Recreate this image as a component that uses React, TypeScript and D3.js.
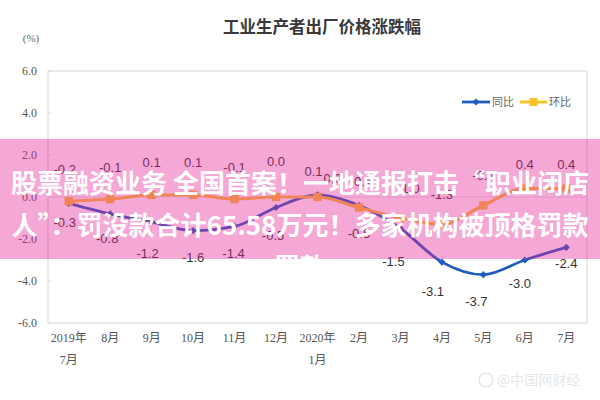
import React from "react";
import * as d3 from "d3";

// ---- data ----
const categories = ["2019-07", "2019-08", "2019-09", "2019-10", "2019-11", "2019-12", "2020-01", "2020-02", "2020-03", "2020-04", "2020-05", "2020-06", "2020-07"];
const xTickLabels = [["2019年", "7月"], ["8月"], ["9月"], ["10月"], ["11月"], ["12月"], ["2020年", "1月"], ["2月"], ["3月"], ["4月"], ["5月"], ["6月"], ["7月"]];
const yoyValues = [-0.3, -0.8, -1.2, -1.6, -1.4, -0.5, 0.1, -0.4, -1.5, -3.1, -3.7, -3.0, -2.4];
const momValues = [-0.2, -0.1, 0.1, 0.1, -0.1, 0.0, 0.0, -0.5, -1.0, -1.3, -0.4, 0.4, 0.4];
const yTicks = [6, 4, 2, 0, -2, -4, -6];
const seriesNames = ["同比", "环比"];
const chartTitle = "工业生产者出厂价格涨跌幅";
const unitLabel = "(%)";
const bannerLines = ["股票融资业务 全国首案！一地通报打击“职业闭店", "人”：罚没款合计65.58万元！多家机构被顶格罚款", "罚款"];
const watermarkText = "@中国网财经";

// ---- layout / style (not data) ----
const W = 600, H = 400;
const plot = { left: 48, right: 587, top: 71, bottom: 323 };
const BLUE = "#1f5bc0";
const YELLOW = "#f8c42a";
const yoyLabelDy = [19, 25, 31, 27, 27, 28, -23, -24, 33, 29, 27, 23, 16];
const yoyLabelDx = [-4, -3, -4, 0, -1, -3, -4, 2, -7, -9, -7, -5, 0];
const momLabelDy = [-32, -32, -32, -32, -32, -36, -19, 26, -30, -30, -30, -24, -24];
const momLabelDx = [-4, 0, 0, 0, 0, 0, 15, 0, 8, 0, 0, 0, 0];

const fmt = (v: number) => {
  const s = Math.abs(v).toFixed(1);
  return v < 0 ? "-" + s : s;
};

export default function App() {
  const x = d3.scaleBand<string>().domain(categories).range([plot.left, plot.right]);
  const cx = (i: number) => (x(categories[i]) as number) + x.bandwidth() / 2;
  const y = d3.scaleLinear().domain([-6, 6]).range([plot.bottom, plot.top]);

  const line = d3
    .line<number>()
    .x((_, i) => cx(i))
    .y((d) => y(d))
    .curve(d3.curveMonotoneX);

  const labelFont = "'Liberation Sans', Arial, sans-serif";
  const serifFont = "'Liberation Serif', 'Noto Sans CJK SC', serif";
  const cjk = "'Noto Sans CJK SC', 'Noto Sans', sans-serif";

  const bandTop = 139, bandBottom = 259;

  return (
    <div style={{ position: "fixed", left: 0, top: 0, width: W, height: H, background: "#fff" }}>
      <svg width={W} height={H} viewBox={`0 0 ${W} ${H}`} style={{ display: "block" }}>
        <defs>
          <clipPath id="bandClip">
            <rect x={0} y={bandTop} width={W} height={bandBottom - bandTop} />
          </clipPath>
        </defs>
        <rect x={0} y={0} width={W} height={H} fill="#fff" />

        {/* title */}
        <text x={322} y={33} textAnchor="middle" fontFamily={cjk} fontSize={16.5} fontWeight="bold" fill="#3a3a3a">
          {chartTitle}
        </text>
        <text x={31} y={42} textAnchor="middle" fontFamily={serifFont} fontSize={11} fill="#666">
          {unitLabel}
        </text>

        {/* plot frame */}
        <rect x={plot.left} y={plot.top} width={plot.right - plot.left} height={plot.bottom - plot.top} fill="none" stroke="#dcdcdc" strokeWidth={1.2} />
        <line x1={plot.left} x2={plot.right} y1={y(0)} y2={y(0)} stroke="#e2e2e2" strokeWidth={1} />
        {yTicks.map((t) => (
          <line key={"tk" + t} x1={plot.left} x2={plot.left + 3} y1={y(t)} y2={y(t)} stroke="#d8d8d8" />
        ))}

        {/* y tick labels */}
        {yTicks.map((t) => (
          <text key={"yt" + t} x={37} y={y(t)} dy="0.35em" textAnchor="end" fontFamily={serifFont} fontSize={12} fill="#555">
            {fmt(t)}
          </text>
        ))}

        {/* x tick labels */}
        {xTickLabels.map((lines, i) =>
          lines.map((s, j) => (
            <text key={"xt" + i + "_" + j} x={cx(i)} y={342 + j * 22} textAnchor="middle" fontFamily={serifFont} fontSize={12} fill="#555">
              {s}
            </text>
          ))
        )}

        {/* 同比 series */}
        <path d={line(yoyValues) || ""} fill="none" stroke={BLUE} strokeWidth={2.8} />
        {yoyValues.map((v, i) => {
          const px = cx(i), py = y(v), s = 3.6;
          return <path key={"yd" + i} d={`M${px},${py - s}L${px + s},${py}L${px},${py + s}L${px - s},${py}Z`} fill={BLUE} />;
        })}

        {/* 环比 series */}
        <path d={line(momValues) || ""} fill="none" stroke={YELLOW} strokeWidth={3} />
        {momValues.map((v, i) => (
          <rect key={"ms" + i} x={cx(i) - 4.2} y={y(v) - 4.2} width={8.4} height={8.4} fill={YELLOW} />
        ))}

        {/* data labels */}
        {yoyValues.map((v, i) => (
          <text key={"yl" + i} x={cx(i) + yoyLabelDx[i]} y={y(v) + yoyLabelDy[i]} dy="0.35em" textAnchor="middle" fontFamily={labelFont} fontSize={13} fill="#333">
            {fmt(v)}
          </text>
        ))}
        {momValues.map((v, i) => (
          <text key={"ml" + i} x={cx(i) + momLabelDx[i]} y={y(v) + momLabelDy[i]} dy="0.35em" textAnchor="middle" fontFamily={labelFont} fontSize={13} fill="#333">
            {fmt(v)}
          </text>
        ))}

        {/* legend */}
        <g fontFamily={cjk} fontSize={11} fill="#666">
          <line x1={462} x2={490} y1={102} y2={102} stroke={BLUE} strokeWidth={2.8} />
          <path d={`M476,98.5L479.5,102L476,105.5L472.5,102Z`} fill={BLUE} />
          <text x={492} y={102} dy="0.35em">{seriesNames[0]}</text>
          <line x1={520} x2={547} y1={102} y2={102} stroke={YELLOW} strokeWidth={3} />
          <rect x={529.5} y={98} width={8} height={8} fill={YELLOW} />
          <text x={549} y={102} dy="0.35em">{seriesNames[1]}</text>
        </g>

        {/* overlay banner */}
        <rect x={0} y={bandTop} width={W} height={bandBottom - bandTop} fill="rgb(230,37,152)" fillOpacity={0.4} />
        <g clipPath="url(#bandClip)">
          {bannerLines.map((s, i) => (
            <text key={"bn" + i} x={300} y={193 + i * 42} textAnchor="middle" fontFamily={cjk} fontWeight="bold" fontSize={26} fill="#fff">
              {s}
            </text>
          ))}
        </g>

        {/* watermark */}
        <g opacity={0.35}>
          <circle cx={486} cy={380} r={7} fill="none" stroke="#aaa" strokeWidth={1.2} />
          <text x={497} y={380} dy="0.35em" fontFamily={cjk} fontSize={14} fill="#bbb">
            {watermarkText}
          </text>
        </g>
      </svg>
    </div>
  );
}
